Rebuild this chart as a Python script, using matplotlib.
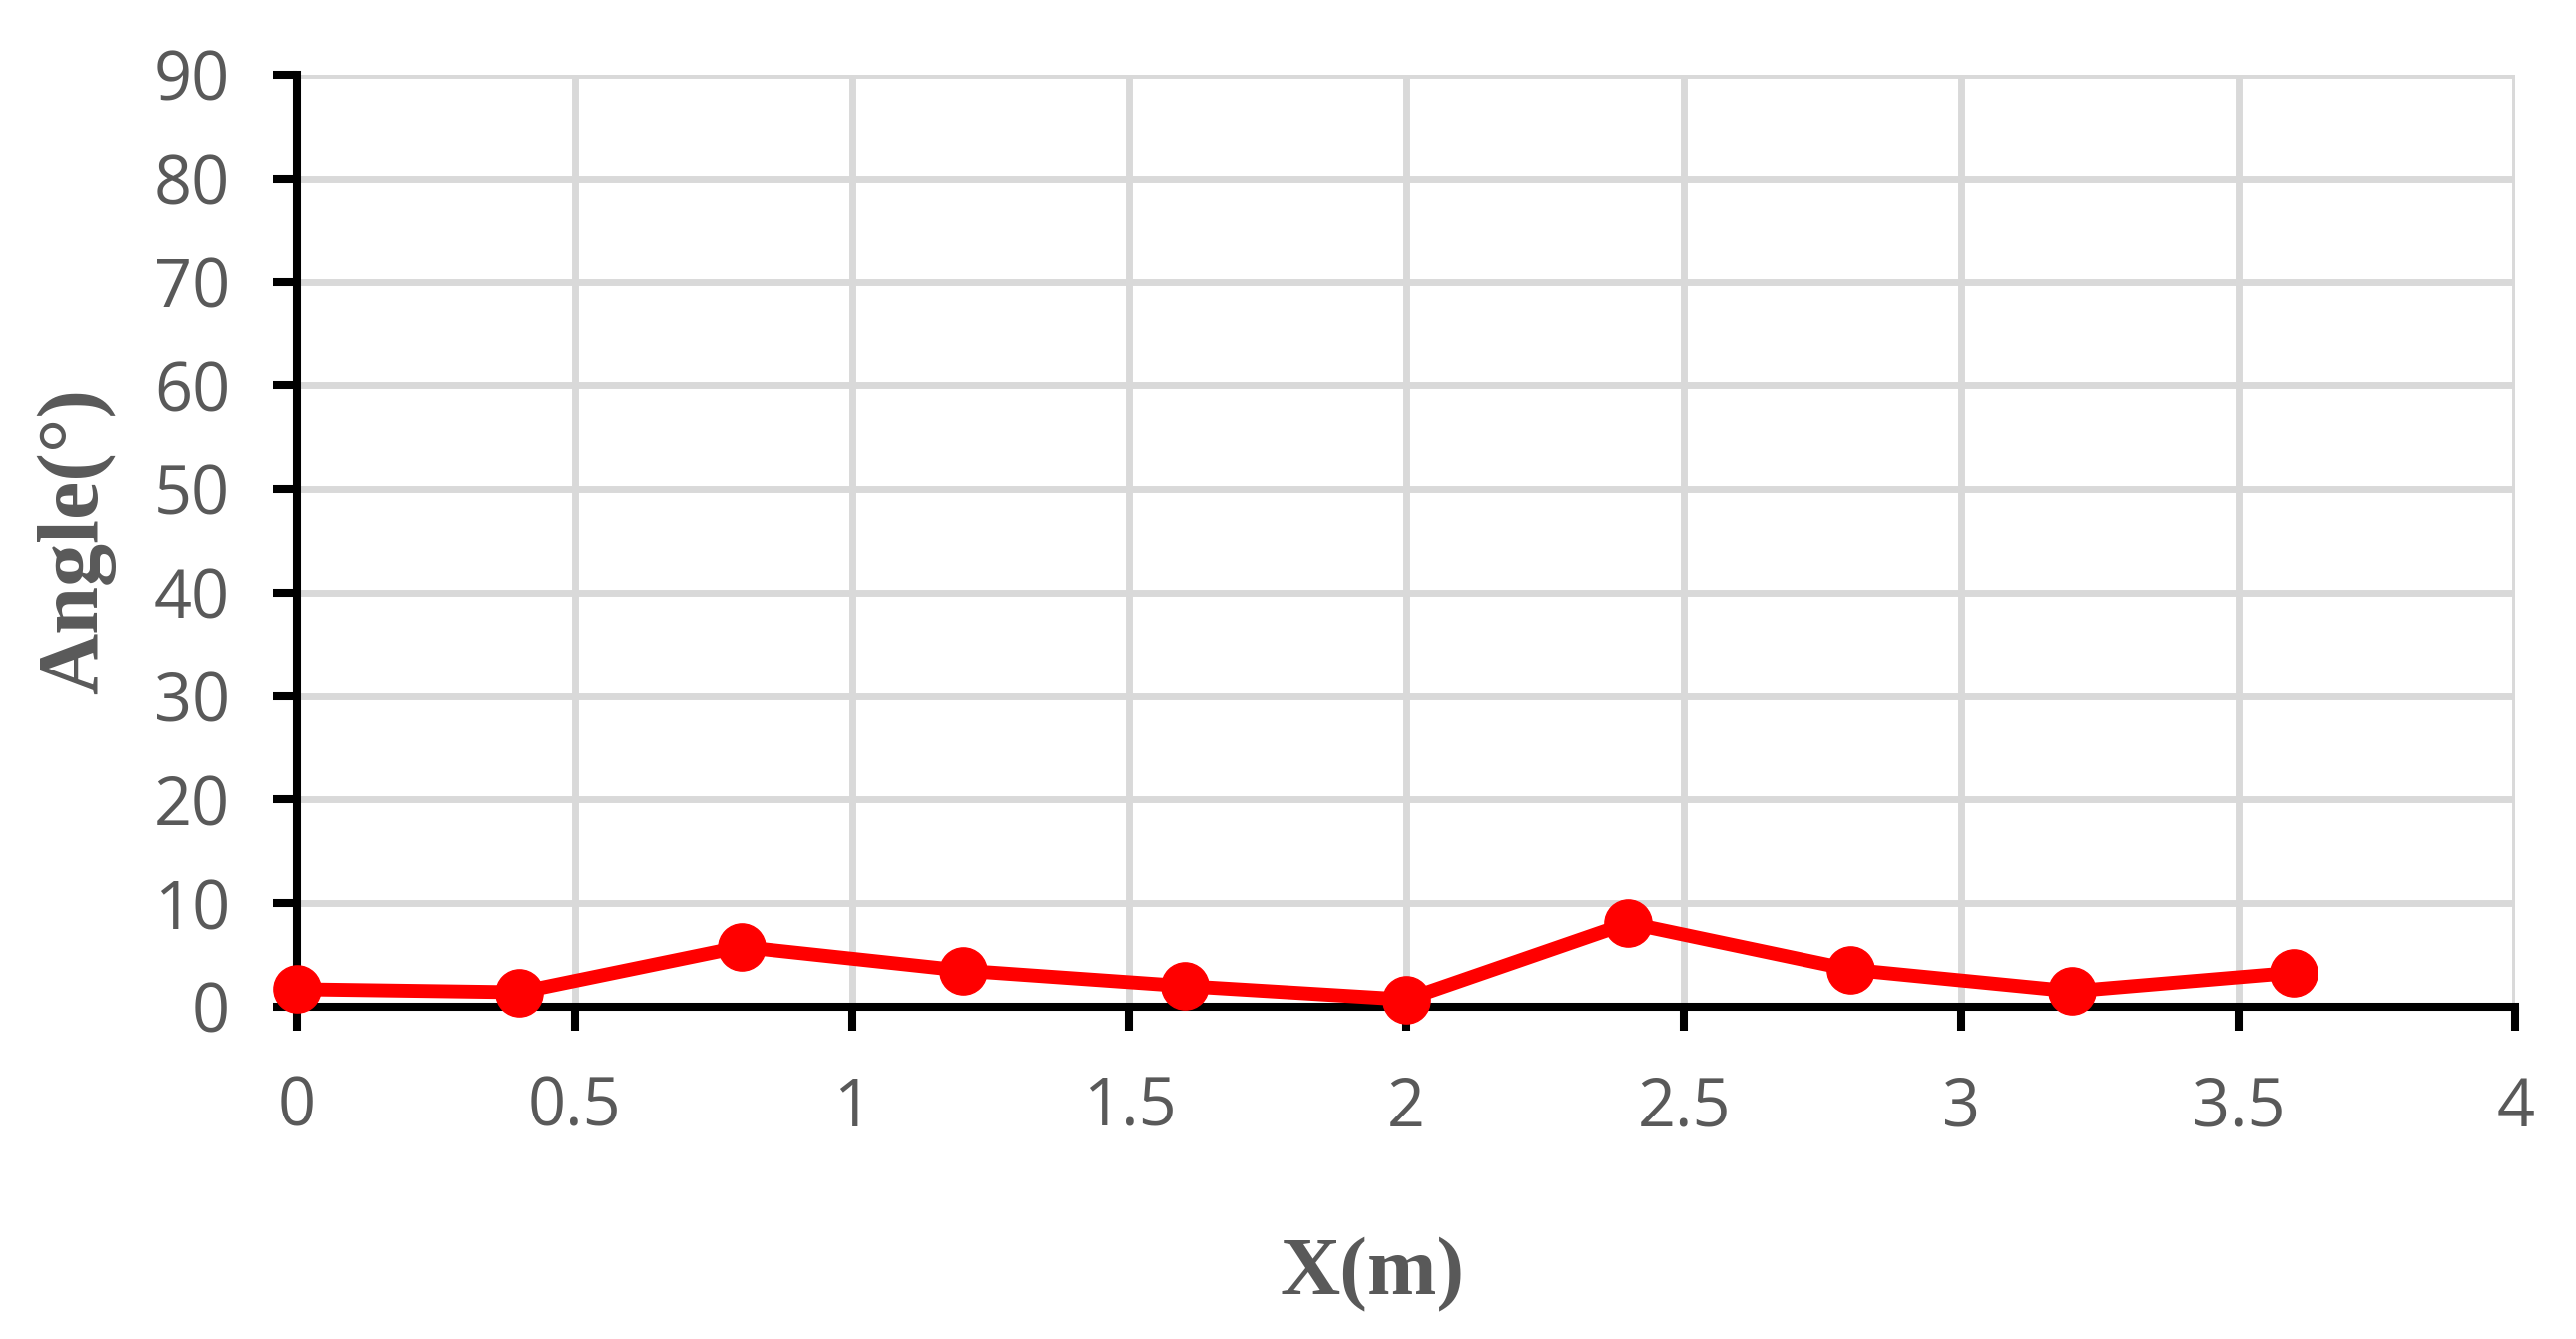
import matplotlib.pyplot as plt

# data
x_m = [0, 0.4, 0.8, 1.2, 1.6, 2.0, 2.4, 2.8, 3.2, 3.6]
angle = [1.7, 1.4, 5.8, 3.5, 2.0, 0.7, 8.1, 3.6, 1.5, 3.3]
x_ticks = [0, 0.5, 1, 1.5, 2, 2.5, 3, 3.5, 4]
x_tick_labels = ["0", "0.5", "1", "1.5", "2", "2.5", "3", "3.5", "4"]
y_ticks = [0, 10, 20, 30, 40, 50, 60, 70, 80, 90]

grey = "#595959"

fig = plt.figure(figsize=(25.81, 13.42), dpi=100)
ax = fig.add_axes([0.1155, 0.2481, 0.861, 0.696])

ax.plot(x_m, angle, color="#ff0000", linewidth=10, marker="o",
        markersize=34, zorder=3, clip_on=False)

ax.set_xlim(0, 4)
ax.set_ylim(0, 90)
ax.set_xticks(x_ticks)
ax.set_xticklabels(x_tick_labels)
ax.set_yticks(y_ticks)

ax.grid(True, color="#d9d9d9", linewidth=5)
ax.set_axisbelow(True)

for s in ["top", "right"]:
    ax.spines[s].set_visible(False)
for s in ["left", "bottom"]:
    ax.spines[s].set_linewidth(5.8)
    ax.spines[s].set_color("black")
    ax.spines[s].set_zorder(2.5)

ax.tick_params(axis="both", direction="out", length=17, width=5.8, pad=32,
               labelsize=48, labelcolor=grey, color="black")
for lab in ax.get_xticklabels() + ax.get_yticklabels():
    lab.set_fontfamily("Open Sans")

ax.set_xlabel("X(m)", fontsize=60, fontweight="bold", color=grey,
              fontfamily="Liberation Serif", labelpad=69, x=0.4847)
ax.set_ylabel("Angle(°)", fontsize=62, fontweight="bold", color=grey,
              fontfamily="Liberation Serif", labelpad=27)

fig.savefig("out.png", dpi=100)
